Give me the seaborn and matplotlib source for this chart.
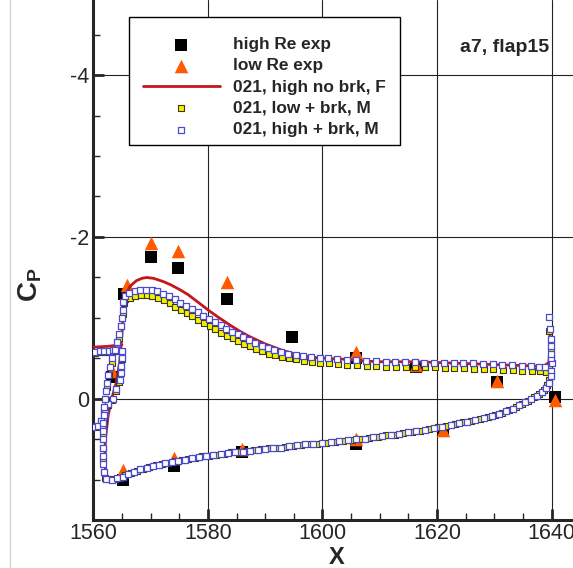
import matplotlib
matplotlib.use('Agg')
import matplotlib.pyplot as plt
from matplotlib.patches import Rectangle
from matplotlib.lines import Line2D
from matplotlib.ticker import MultipleLocator
import seaborn as sns

# ---- experiment ----
hi_x = [1563.3, 1565.4, 1570.1, 1574.8, 1583.3, 1594.7, 1605.8, 1616.3, 1630.4, 1640.6,
        1565.2, 1574.1, 1586.0, 1605.8, 1621.0]
hi_cp = [-0.27, -1.30, -1.75, -1.62, -1.24, -0.76, -0.50, -0.40, -0.21, -0.02,
         1.00, 0.83, 0.66, 0.56, 0.40]

lo_x = [1563.3, 1565.8, 1570.1, 1574.8, 1583.3, 1605.8, 1616.3, 1630.4, 1640.6,
        1565.2, 1574.1, 1586.0, 1605.8, 1621.0]
lo_cp = [-0.35, -1.41, -1.92, -1.83, -1.45, -0.58, -0.42, -0.22, 0.01,
         0.88, 0.73, 0.62, 0.49, 0.38]

# ---- 021, high no brk, F (red line) ----
red_cove_x = [1550.0, 1556.0, 1560.0, 1562.5, 1565.0]
red_cove_cp = [-0.64, -0.64, -0.64, -0.65, -0.67]

red_x = [1639.3, 1638.3, 1637.0, 1635.5, 1634.0, 1632.0, 1630.0, 1627.0, 1624.0, 1621.0,
         1618.0, 1615.0, 1612.0, 1609.0, 1606.0, 1603.0, 1600.0, 1597.0, 1594.0, 1591.0,
         1588.0, 1585.0, 1582.0, 1579.0, 1576.0, 1573.0, 1570.0, 1568.0, 1566.0, 1564.5,
         1563.3, 1562.4, 1562.0, 1562.1, 1562.6, 1563.2, 1564.0, 1564.6, 1565.0, 1565.3,
         1565.8, 1566.4, 1567.5, 1568.5, 1569.3, 1570.5, 1572.2, 1573.5, 1575.1, 1576.5,
         1578.0, 1580.2, 1582.0, 1583.9, 1585.5, 1587.0, 1588.5, 1590.0, 1591.5, 1593.0,
         1595.0, 1597.0, 1599.0, 1601.3, 1604.0, 1607.0, 1610.0, 1613.0, 1616.0, 1620.0,
         1624.0, 1628.0, 1632.0, 1636.0, 1638.5, 1639.5, 1639.7, 1639.7]
red_cp = [-0.15, -0.08, -0.03, 0.03, 0.09, 0.15, 0.19, 0.25, 0.30, 0.34,
          0.38, 0.41, 0.45, 0.48, 0.50, 0.52, 0.54, 0.56, 0.59, 0.61,
          0.64, 0.66, 0.68, 0.71, 0.74, 0.78, 0.83, 0.87, 0.92, 0.96,
          0.99, 0.98, 0.80, 0.50, 0.20, 0.00, -0.20, -0.45, -0.80, -1.10,
          -1.30, -1.39, -1.46, -1.49, -1.50, -1.49, -1.45, -1.41, -1.35, -1.29,
          -1.21, -1.09, -1.00, -0.91, -0.84, -0.78, -0.73, -0.68, -0.64, -0.60,
          -0.56, -0.53, -0.51, -0.50, -0.49, -0.47, -0.46, -0.46, -0.46, -0.45,
          -0.44, -0.43, -0.42, -0.41, -0.40, -0.45, -0.60, -0.81]

# ---- 021, low + brk, M (yellow squares) ----
yel_cove_x = [1560.3, 1561.1, 1561.9, 1562.7, 1563.5, 1564.3, 1565.0, 1565.0, 1564.9, 1564.7,
              1564.5, 1563.9, 1563.3, 1562.5, 1561.9, 1561.3, 1560.5]
yel_cove_cp = [-0.57, -0.58, -0.58, -0.58, -0.59, -0.59, -0.58, -0.49, -0.40, -0.31,
               -0.21, -0.10, 0.01, 0.07, 0.18, 0.28, 0.34]

yel_up_x = [1561.8, 1561.7, 1561.7, 1561.7, 1561.8, 1561.9, 1562.1, 1562.4, 1562.8, 1563.3,
            1563.9, 1564.5, 1564.9, 1565.1, 1565.3, 1565.6, 1566.4, 1567.3, 1568.3, 1569.3,
            1570.3, 1571.3, 1572.3, 1573.3, 1574.3, 1575.3, 1576.3, 1577.3, 1578.3, 1579.3,
            1580.3, 1581.3, 1582.3, 1583.3, 1584.3, 1585.3, 1586.3, 1587.3, 1588.4, 1589.5,
            1590.6, 1591.7, 1592.9, 1594.1, 1595.4, 1596.7, 1598.1, 1599.6, 1601.1, 1602.7,
            1604.3, 1606.0, 1607.7, 1609.4, 1611.1, 1612.8, 1614.5, 1616.2, 1617.9, 1619.6,
            1621.3, 1623.0, 1624.7, 1626.4, 1628.1, 1629.8, 1631.5, 1633.2, 1634.9, 1636.5,
            1637.9, 1639.0]
yel_up_cp = [0.90, 0.75, 0.60, 0.45, 0.30, 0.15, 0.00, -0.15, -0.30, -0.45,
             -0.60, -0.75, -0.90, -1.05, -1.18, -1.24, -1.25, -1.27, -1.28, -1.28,
             -1.27, -1.25, -1.22, -1.18, -1.14, -1.10, -1.06, -1.02, -0.98, -0.94,
             -0.90, -0.86, -0.82, -0.78, -0.75, -0.71, -0.68, -0.65, -0.62, -0.59,
             -0.56, -0.54, -0.52, -0.50, -0.49, -0.47, -0.46, -0.45, -0.44, -0.43,
             -0.42, -0.42, -0.41, -0.41, -0.40, -0.40, -0.40, -0.39, -0.39, -0.39,
             -0.38, -0.38, -0.38, -0.37, -0.37, -0.37, -0.36, -0.36, -0.35, -0.35,
             -0.34, -0.33]

yel_te_x = [1639.6, 1639.8, 1639.8, 1639.8, 1639.6]
yel_te_cp = [-0.40, -0.50, -0.60, -0.72, -0.84]

yel_lo_x = [1562.0, 1562.8, 1563.7, 1564.6, 1565.6, 1566.6, 1567.6, 1568.7, 1569.8, 1570.9,
            1572.0, 1573.1, 1574.2, 1575.4, 1576.6, 1577.8, 1579.0, 1580.2, 1581.5, 1582.8,
            1584.1, 1585.4, 1586.7, 1588.0, 1589.3, 1590.7, 1592.1, 1593.5, 1594.9, 1596.3,
            1597.7, 1599.1, 1600.6, 1602.1, 1603.6, 1605.1, 1606.6, 1608.1, 1609.6, 1611.1,
            1612.6, 1614.1, 1615.6, 1617.1, 1618.6, 1620.1, 1621.6, 1623.1, 1624.6, 1626.0,
            1627.4, 1628.8, 1630.1, 1631.4, 1632.6, 1633.7, 1634.8, 1635.9, 1636.9, 1637.8,
            1638.6, 1639.2, 1639.6, 1639.8]
yel_lo_cp = [0.97, 0.99, 0.99, 0.97, 0.94, 0.91, 0.89, 0.86, 0.84, 0.82,
             0.80, 0.79, 0.77, 0.75, 0.74, 0.73, 0.71, 0.70, 0.69, 0.68,
             0.66, 0.65, 0.64, 0.63, 0.62, 0.61, 0.60, 0.59, 0.58, 0.57,
             0.56, 0.55, 0.54, 0.53, 0.52, 0.51, 0.50, 0.48, 0.47, 0.45,
             0.44, 0.42, 0.41, 0.39, 0.37, 0.35, 0.33, 0.31, 0.29, 0.27,
             0.25, 0.22, 0.20, 0.17, 0.13, 0.10, 0.06, 0.02, -0.02, -0.06,
             -0.11, -0.17, -0.24, -0.31]

# ---- 021, high + brk, M (blue open squares) ----
blu_cove_x = [1559.5, 1560.3, 1561.1, 1561.9, 1562.7, 1563.5, 1564.3, 1565.0, 1565.0, 1564.9,
              1564.8, 1564.6, 1564.0, 1563.4, 1562.6, 1562.0, 1561.4, 1560.6, 1559.8]
blu_cove_cp = [-0.58, -0.58, -0.59, -0.59, -0.59, -0.60, -0.60, -0.59, -0.50, -0.41,
               -0.32, -0.24, -0.12, 0.00, 0.06, 0.17, 0.27, 0.33, 0.35]

blu_up_x = [1561.8, 1561.7, 1561.7, 1561.7, 1561.7, 1561.7, 1561.7, 1561.8, 1561.9, 1562.0,
            1562.2, 1562.4, 1562.6, 1562.9, 1563.3, 1563.7, 1564.1, 1564.5, 1564.8, 1565.0,
            1565.1, 1565.2, 1565.5, 1566.3, 1567.2, 1568.2, 1569.2, 1570.2, 1571.2, 1572.2,
            1573.2, 1574.2, 1575.2, 1576.2, 1577.2, 1578.2, 1579.2, 1580.2, 1581.2, 1582.2,
            1583.2, 1584.2, 1585.2, 1586.2, 1587.2, 1588.3, 1589.4, 1590.5, 1591.6, 1592.8,
            1594.0, 1595.3, 1596.6, 1598.0, 1599.5, 1601.0, 1602.6, 1604.2, 1605.9, 1607.6,
            1609.3, 1611.0, 1612.7, 1614.4, 1616.1, 1617.8, 1619.5, 1621.2, 1622.9, 1624.6,
            1626.3, 1628.0, 1629.7, 1631.4, 1633.1, 1634.8, 1636.4, 1637.8, 1638.9]
blu_up_cp = [0.90, 0.80, 0.70, 0.60, 0.50, 0.40, 0.30, 0.20, 0.10, 0.00,
             -0.10, -0.20, -0.30, -0.40, -0.50, -0.60, -0.70, -0.80, -0.90, -1.00,
             -1.10, -1.20, -1.27, -1.31, -1.33, -1.35, -1.35, -1.35, -1.33, -1.30,
             -1.27, -1.23, -1.19, -1.15, -1.11, -1.07, -1.03, -0.99, -0.95, -0.91,
             -0.87, -0.83, -0.80, -0.76, -0.73, -0.69, -0.66, -0.63, -0.60, -0.58,
             -0.56, -0.54, -0.53, -0.52, -0.51, -0.50, -0.49, -0.48, -0.48, -0.47,
             -0.47, -0.46, -0.46, -0.46, -0.46, -0.45, -0.45, -0.45, -0.44, -0.44,
             -0.44, -0.43, -0.43, -0.42, -0.42, -0.41, -0.41, -0.40, -0.39]

blu_te_x = [1639.9, 1640.0, 1639.9, 1639.8, 1639.9, 1639.8, 1639.7, 1639.6]
blu_te_cp = [-0.34, -0.44, -0.50, -0.56, -0.65, -0.74, -0.87, -1.01]

blu_lo_x = [1562.3, 1563.2, 1564.1, 1565.1, 1566.1, 1567.1, 1568.2, 1569.3, 1570.4, 1571.5,
            1572.6, 1573.7, 1574.8, 1576.0, 1577.2, 1578.4, 1579.6, 1580.9, 1582.2, 1583.5,
            1584.8, 1586.1, 1587.4, 1588.7, 1590.0, 1591.4, 1592.8, 1594.2, 1595.6, 1597.0,
            1598.4, 1599.9, 1601.4, 1602.9, 1604.4, 1605.9, 1607.4, 1608.9, 1610.4, 1611.9,
            1613.4, 1614.9, 1616.4, 1617.9, 1619.4, 1620.9, 1622.4, 1623.9, 1625.3, 1626.7,
            1628.1, 1629.5, 1630.8, 1632.0, 1633.2, 1634.3, 1635.4, 1636.4, 1637.4, 1638.3,
            1639.0, 1639.5, 1639.8]
blu_lo_cp = [0.99, 1.00, 0.98, 0.96, 0.93, 0.90, 0.87, 0.85, 0.83, 0.81,
             0.79, 0.78, 0.76, 0.75, 0.73, 0.72, 0.71, 0.69, 0.68, 0.67,
             0.66, 0.65, 0.64, 0.63, 0.62, 0.61, 0.60, 0.58, 0.57, 0.56,
             0.55, 0.54, 0.53, 0.52, 0.51, 0.50, 0.49, 0.47, 0.46, 0.44,
             0.43, 0.41, 0.40, 0.38, 0.36, 0.34, 0.32, 0.30, 0.28, 0.26,
             0.23, 0.21, 0.18, 0.15, 0.12, 0.08, 0.04, 0.00, -0.04, -0.09,
             -0.14, -0.20, -0.28]

sns.set_style('ticks')
plt.rcParams['font.family'] = ['Liberation Sans', 'DejaVu Sans']
plt.rcParams['axes.unicode_minus'] = False
plt.rcParams['mathtext.fontset'] = 'custom'
plt.rcParams['mathtext.bf'] = 'Liberation Sans:bold'
plt.rcParams['mathtext.rm'] = 'Liberation Sans'

W, H = 573, 568
fig = plt.figure(figsize=(W / 100, H / 100), dpi=100)
ax = fig.add_axes([93.3 / W, 48 / H, 1 - 93.3 / W, 520 / H])

sns.scatterplot(x=hi_x, y=hi_cp, marker='s', s=78, color='black', linewidth=0,
                label='high Re exp', ax=ax, zorder=3)
sns.scatterplot(x=lo_x, y=lo_cp, marker='^', s=95, color='#ff5a00', linewidth=0,
                label='low Re exp', ax=ax, zorder=4)
sns.lineplot(x=red_x, y=red_cp, sort=False, estimator=None, color='#c4161c', lw=2,
             label='021, high no brk, F', ax=ax, zorder=5)
sns.lineplot(x=red_cove_x, y=red_cove_cp, sort=False, estimator=None, color='#c4161c', lw=2,
             ax=ax, zorder=5, legend=False)
sns.scatterplot(x=yel_cove_x + yel_up_x + yel_te_x + yel_lo_x,
                y=yel_cove_cp + yel_up_cp + yel_te_cp + yel_lo_cp,
                marker='s', s=25, color='#f4f000', edgecolor='#3c3a10', linewidth=0.8,
                label='021, low + brk, M', ax=ax, zorder=6)
sns.scatterplot(x=blu_cove_x + blu_up_x + blu_te_x + blu_lo_x,
                y=blu_cove_cp + blu_up_cp + blu_te_cp + blu_lo_cp,
                marker='s', s=25, color='white', edgecolor='#4b4bd2', linewidth=0.9,
                label='021, high + brk, M', ax=ax, zorder=7)

ax.set_xlim(1560, 1560 + (W - 93.3) / 5.73)
ax.set_ylim(1.494, -4.926)
ax.xaxis.set_major_locator(MultipleLocator(20))
ax.xaxis.set_minor_locator(MultipleLocator(5))
ax.yaxis.set_major_locator(MultipleLocator(2))
ax.yaxis.set_minor_locator(MultipleLocator(0.5))
ax.tick_params(which='major', direction='in', length=8, width=2, labelsize=15.5, pad=3)
ax.tick_params(which='minor', direction='in', length=4.8, width=1)
ax.tick_params(axis='x', which='major', pad=2)
ax.grid(True, which='major', color='#222222', lw=0.8)
ax.set_axisbelow(True)
ax.spines['top'].set_visible(False)
ax.spines['right'].set_visible(False)
ax.spines['left'].set_linewidth(2.2)
ax.spines['bottom'].set_linewidth(2.2)
ax.set_xlabel('')
ax.set_ylabel('')

# legend box
ax.add_patch(Rectangle((129 / W, 1 - 145 / H), 271 / W, 128.3 / H, transform=fig.transFigure,
                       facecolor='white', edgecolor='black', lw=1, zorder=10))
handles, labels = ax.get_legend_handles_labels()
leg = ax.legend(handles, labels, loc='upper left', bbox_to_anchor=(143 / W, 1 - 37 / H),
                bbox_transform=fig.transFigure, frameon=False, borderpad=0, borderaxespad=0,
                prop={'weight': 'bold', 'size': 12.4}, handlelength=4.47, handletextpad=0.75,
                labelspacing=0.36, scatterpoints=1)
leg.set_zorder(11)

fig.text(505 / W, 1 - 48 / H, 'a7, flap15', fontsize=14, fontweight='bold', ha='center', va='center')
fig.text(337 / W, 1 - 557 / H, 'X', fontsize=17, fontweight='bold', ha='center', va='center')
fig.text(30 / W, 1 - 285 / H, r'$\mathbf{C}_{\mathbf{P}}$', fontsize=20, rotation=90,
         ha='center', va='center')
fig.add_artist(Line2D([10 / W, 10 / W], [0, 1], transform=fig.transFigure, color='#d4d4d4', lw=1))

fig.savefig('out.png', dpi=100)
